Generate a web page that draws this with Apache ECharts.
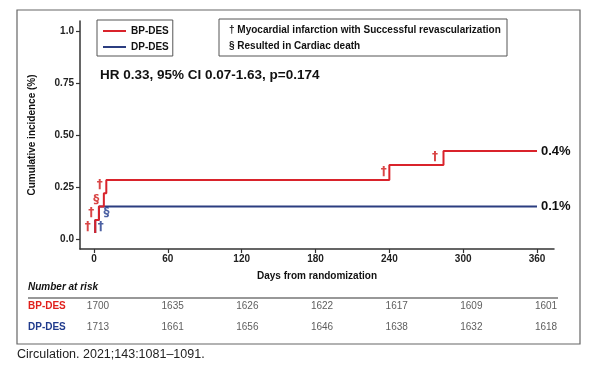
<!DOCTYPE html>
<html><head><meta charset="utf-8">
<script src="https://cdn.jsdelivr.net/npm/echarts@6/dist/echarts.min.js"></script>
<style>html,body{margin:0;padding:0;background:#fff}#c{width:599px;height:368px}</style>
</head><body><div id="c"></div>
<script>
// ---- data ----
const seriesNames = ['BP-DES', 'DP-DES'];
// [day, cumulative incidence %] step points
const bpDes = [[1,0.029],[1,0.091],[4,0.156],[8,0.22],[10,0.284],[240,0.356],[284,0.423],[360,0.423]];
const dpDes = [[1,0.029],[1,0.091],[4,0.156],[360,0.156]];
const endLabels = ['0.4%', '0.1%'];
// annotation glyphs: [day, value, glyph]
const bpMarks = [[-5,0.059,'†'],[-2.2,0.124,'†'],[1.9,0.19,'§'],[4.6,0.262,'†'],[235.5,0.325,'†'],[277,0.395,'†']];
const dpMarks = [[5.5,0.058,'†'],[10.2,0.126,'§']];
const xTicks = [0,60,120,180,240,300,360];
const yTicks = [0,0.25,0.5,0.75,1.0];
const yTickLabels = ['0.0','0.25','0.50','0.75','1.0'];
const riskDays = [0,60,120,180,240,300,360];
const riskBP = [1700,1635,1626,1622,1617,1609,1601];
const riskDP = [1713,1661,1656,1646,1638,1632,1618];
const hrText = 'HR 0.33, 95% CI 0.07-1.63, p=0.174';
const noteLines = ['† Myocardial infarction with Successful revascularization', '§ Resulted in Cardiac death'];
const citation = 'Circulation. 2021;143:1081–1091.';

const RED = '#d9232b', BLUE = '#2b3d80', NAVY = '#1f3a8c';
const FONT = '"Liberation Sans", Arial, sans-serif';
const GLYPH_FONT = '"DejaVu Sans", "Liberation Sans", sans-serif';

const chart = echarts.init(document.getElementById('c'));
const markSeries = (data, color) => ({
  type: 'scatter', xAxisIndex: 0, yAxisIndex: 0, silent: true,
  symbol: 'circle', symbolSize: 1, itemStyle: {color: 'rgba(0,0,0,0)'},
  data: data,
  label: {show: true, position: 'inside', formatter: p => p.data[2], color: color,
          fontFamily: GLYPH_FONT, fontWeight: 'bold', fontSize: 12},
  z: 5
});
const riskSeries = (vals, cat) => ({
  type: 'scatter', xAxisIndex: 1, yAxisIndex: 1, silent: true,
  symbol: 'circle', symbolSize: 1, itemStyle: {color: 'rgba(0,0,0,0)'},
  data: riskDays.map((d, i) => [d, cat, vals[i]]),
  label: {show: true, position: 'inside', formatter: p => String(p.data[2]), color: '#333',
          fontFamily: FONT, fontSize: 10}
});

chart.setOption({
  animation: false,
  textStyle: {fontFamily: FONT},
  grid: [
    {left: 80, right: 45, top: 21, height: 228},
    {left: 80, right: 45, top: 295.5, height: 42}
  ],
  legend: {
    data: seriesNames, orient: 'vertical', left: 97, top: 20,
    icon: 'rect', itemWidth: 23, itemHeight: 2, itemGap: 6,
    padding: [6, 4, 4, 6], borderColor: '#555', borderWidth: 1,
    textStyle: {fontFamily: FONT, fontWeight: 'bold', fontSize: 10, color: '#111'},
    selectedMode: false
  },
  xAxis: [{
    type: 'value', gridIndex: 0, min: -11.38, max: 373.8,
    name: 'Days from randomization', nameLocation: 'middle', nameGap: 22,
    nameTextStyle: {fontFamily: FONT, fontWeight: 'bold', fontSize: 10, color: '#111'},
    axisLine: {show: true, onZero: false, lineStyle: {color: '#333', width: 1.5}},
    axisTick: {show: true, customValues: xTicks, length: 4, lineStyle: {color: '#333', width: 1.2}},
    axisLabel: {customValues: xTicks, margin: 5, fontFamily: FONT, fontWeight: 'bold', fontSize: 10, color: '#222'},
    splitLine: {show: false}
  }, {
    type: 'value', gridIndex: 1, min: -14.46, max: 366.4, show: false
  }],
  yAxis: [{
    type: 'value', gridIndex: 0, min: -0.048, max: 1.048,
    name: 'Cumulative incidence (%)', nameLocation: 'middle', nameGap: 43, nameRotate: 90,
    nameTextStyle: {fontFamily: FONT, fontWeight: 'bold', fontSize: 10, color: '#111'},
    axisLine: {show: true, onZero: false, lineStyle: {color: '#333', width: 1.5}},
    axisTick: {show: true, customValues: yTicks, length: 4, lineStyle: {color: '#333', width: 1.2}},
    axisLabel: {customValues: yTicks, formatter: v => yTickLabels[yTicks.indexOf(v)] ?? '',
                margin: 6, fontFamily: FONT, fontWeight: 'bold', fontSize: 10, color: '#222'},
    splitLine: {show: false}
  }, {
    type: 'category', gridIndex: 1, data: seriesNames, inverse: true,
    axisLine: {show: false}, axisTick: {show: false}, splitLine: {show: false},
    axisLabel: {align: 'left', margin: 52, fontFamily: FONT, fontWeight: 'bold', fontSize: 10,
                color: (v, i) => i === 0 ? '#e0201c' : NAVY}
  }],
  series: [
    {name: seriesNames[0], type: 'line', step: 'end', data: bpDes, showSymbol: false,
     lineStyle: {color: RED, width: 2}, itemStyle: {color: RED}, z: 3,
     endLabel: {show: true, formatter: endLabels[0], distance: 4, fontFamily: FONT, fontWeight: 'bold', fontSize: 13, color: '#111'}},
    {name: seriesNames[1], type: 'line', step: 'end', data: dpDes, showSymbol: false,
     lineStyle: {color: BLUE, width: 2}, itemStyle: {color: BLUE}, z: 2,
     endLabel: {show: true, formatter: endLabels[1], distance: 4, fontFamily: FONT, fontWeight: 'bold', fontSize: 13, color: '#111'}},
    markSeries(bpMarks, '#d01818'),
    markSeries(dpMarks, NAVY),
    riskSeries(riskBP, seriesNames[0]),
    riskSeries(riskDP, seriesNames[1])
  ],
  graphic: [
    {type: 'rect', shape: {x: 17, y: 10, width: 563, height: 334}, style: {fill: 'none', stroke: '#666', lineWidth: 1.2}, silent: true},
    {type: 'rect', shape: {x: 219, y: 19, width: 288, height: 37}, style: {fill: 'none', stroke: '#555', lineWidth: 1}, silent: true},
    {type: 'text', x: 229, y: 30, style: {text: noteLines[0], font: 'bold 10px ' + FONT, fill: '#111', textVerticalAlign: 'middle'}},
    {type: 'text', x: 229, y: 46, style: {text: noteLines[1], font: 'bold 10px ' + FONT, fill: '#111', textVerticalAlign: 'middle'}},
    {type: 'text', x: 100, y: 75, style: {text: hrText, font: 'bold 13.5px ' + FONT, fill: '#111', textVerticalAlign: 'middle'}},
    {type: 'text', x: 28, y: 287, style: {text: 'Number at risk', font: 'italic bold 10px ' + FONT, fill: '#111', textVerticalAlign: 'middle'}},
    {type: 'line', shape: {x1: 28, y1: 298, x2: 558, y2: 298}, style: {stroke: '#333', lineWidth: 1.2}, silent: true},
    {type: 'text', x: 17, y: 355, style: {text: citation, font: '12.5px ' + FONT, fill: '#222', textVerticalAlign: 'middle'}}
  ]
});
</script></body></html>
